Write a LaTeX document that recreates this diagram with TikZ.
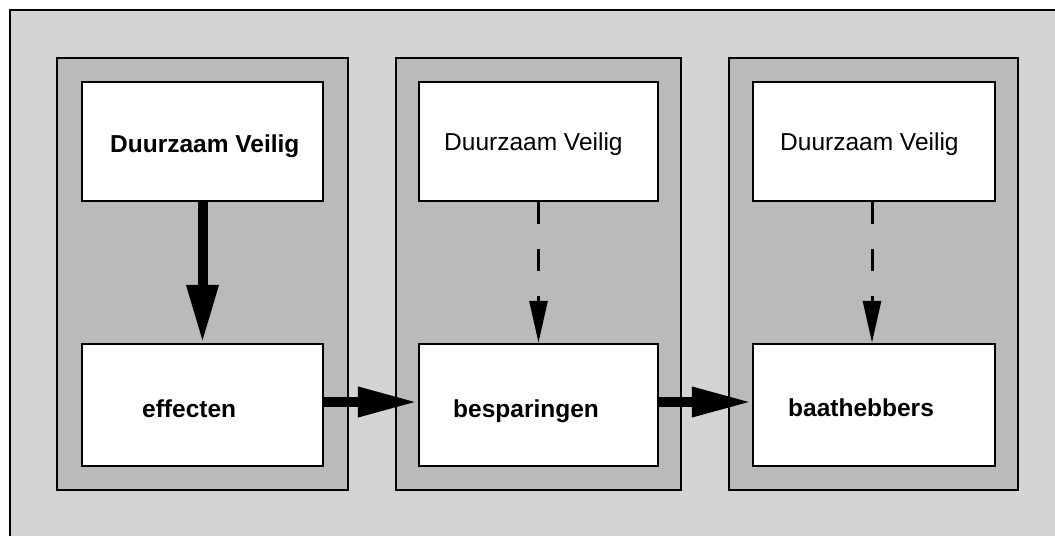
\documentclass[tikz,border=0pt]{standalone}
\usepackage{fontspec}
\setmainfont{Liberation Sans}
\usetikzlibrary{arrows.meta}
\definecolor{bgray}{gray}{0.83}
\definecolor{pgray}{gray}{0.73}
\tikzset{
  panel/.style={draw=black, line width=2.5pt, fill=pgray},
  box/.style={draw=black, line width=2.5pt, fill=white, inner sep=0pt},
  lbl/.style={anchor=base west, inner sep=0pt, font=\fontsize{24.5}{28}\selectfont},
  blbl/.style={lbl, font=\fontsize{24.5}{28}\selectfont\bfseries},
  solidarrow/.style={line width=10pt, -{Triangle[length=58pt,width=30pt]}},
  flowarrow/.style={line width=10pt, -{Triangle[length=60pt,width=28pt]}},
  dasharrow/.style={line width=3pt, dash pattern=on 22pt off 25pt, -{Triangle[length=42pt,width=18pt]}},
}
\begin{document}
\begin{tikzpicture}[x=1pt,y=-1pt]
\useasboundingbox (0,0) rectangle (1055,536);
% outer frame
\fill[bgray] (10,10) rectangle (1055,536);
\draw[line width=2.5pt] (10,536) -- (10,10) -- (1055,10);
% panels
\draw[panel] (57,58) rectangle (348,490);
\draw[panel] (396,58) rectangle (681,490);
\draw[panel] (729,58) rectangle (1018,490);
% boxes
\node[box, minimum width=241pt, minimum height=119pt] (d1) at (202.5,141.5) {};
\node[box, minimum width=241pt, minimum height=122pt] (e1) at (202.5,405) {};
\node[box, minimum width=239pt, minimum height=119pt] (d2) at (538.5,141.5) {};
\node[box, minimum width=239pt, minimum height=122pt] (e2) at (538.5,405) {};
\node[box, minimum width=242pt, minimum height=119pt] (d3) at (874,141.5) {};
\node[box, minimum width=242pt, minimum height=122pt] (e3) at (874,405) {};
% texts
\node[blbl] (t1) at (110,152) {Duurzaam Veilig};
\node[lbl] (t2) at (444,150) {Duurzaam Veilig};
\node[lbl] (t3) at (780,150) {Duurzaam Veilig};
\node[blbl] (b1) at (142,417) {effecten};
\node[blbl] (b2) at (453,417) {besparingen};
\node[blbl] (b3) at (788,416) {baathebbers};
% connectors
\draw[solidarrow] (d1.south) -- (e1.north);
\draw[dasharrow] (d2.south) -- (e2.north);
\draw[dasharrow] ([xshift=-2pt]d3.south) -- ([xshift=-2pt]e3.north);
\draw[flowarrow] ([yshift=3pt]e1.east) -- ([yshift=3pt]e2.west);
\draw[flowarrow] ([yshift=3pt]e2.east) -- ([yshift=3pt]e3.west);
\end{tikzpicture}
\end{document}
